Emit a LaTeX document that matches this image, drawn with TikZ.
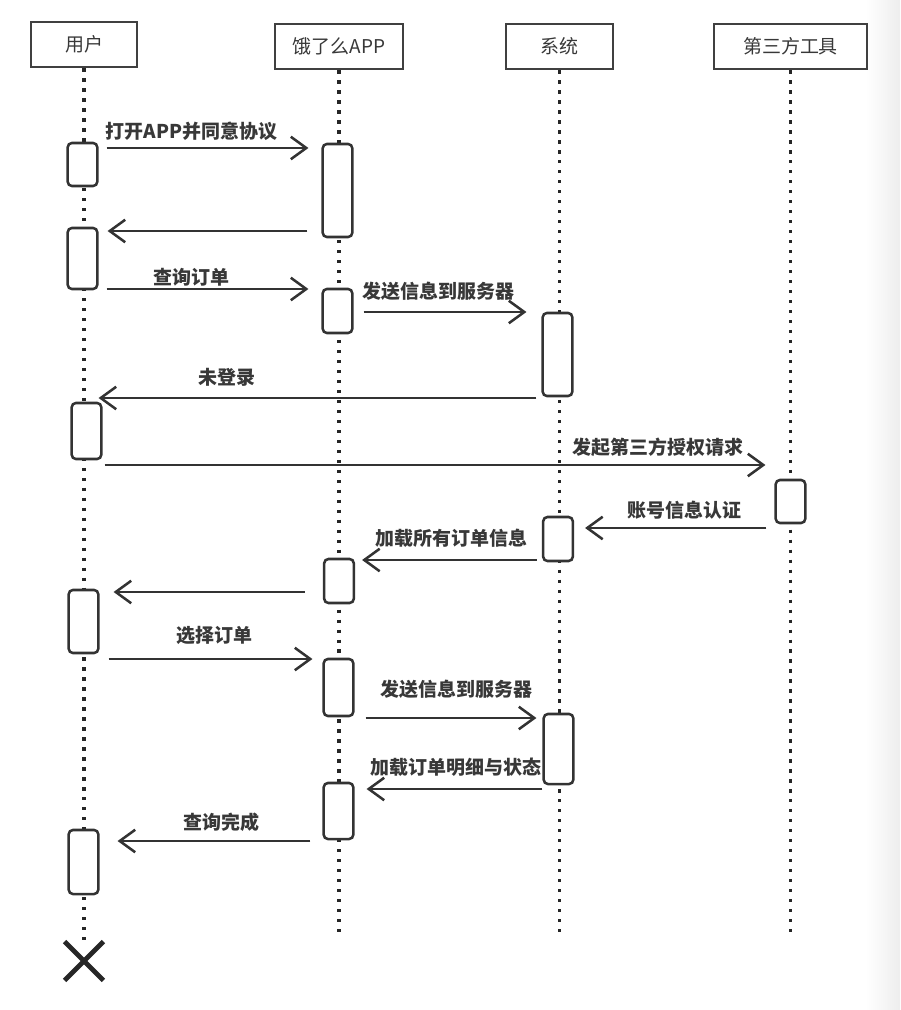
\documentclass[tikz,border=0pt]{standalone}
\usepackage{fontspec}
\setmainfont{Noto Sans CJK SC}
\usetikzlibrary{arrows.meta, calc, shapes.misc}

\begin{document}
\begin{tikzpicture}[x=0.025cm, y=-0.025cm,
        every node/.style={font=\fontsize{13.5}{16}\selectfont, text=black!78},
        head/.style={draw=black!75, line width=2pt, minimum height=1.125cm, inner sep=0pt},
        life/.style={black!85, line width=2.4pt, dash pattern=on 2.3pt off 4.8pt},
        act/.style={draw=black!80, line width=1.8pt, rounded corners=3pt, fill=white,
            minimum width=0.74cm, inner sep=0pt},
        msg/.style={black!80, line width=1.8pt, -{Straight Barb[length=11pt, width=16pt, line width=1.8pt]}},
        lbl/.style={font=\fontsize{13.5}{16}\selectfont\bfseries, inner sep=0pt}]
    \useasboundingbox (0,0) rectangle (900,1010);
    \shade[left color=white, right color=black!7] (866,0) rectangle (900,1010);

    % Draw the participants
    \node[head, minimum width=2.65cm] (user) at (84,44.5) {用户};
    \node[head, minimum width=3.2cm] (app) at (339,46.5) {饿了么APP};
    \node[head, minimum width=2.675cm] (sys) at (559.5,46.5) {系统};
    \node[head, minimum width=3.825cm] (tool) at (790.5,46.5) {第三方工具};

    % Draw the lifelines
    \node[draw=black!85, cross out, line width=3.4pt, minimum size=0.85cm, inner sep=0pt] (kill) at (84,961) {};
    \draw[life] (user.south) -- (kill.north);
    \draw[life] (app.south) -- (app |- 0,938) coordinate (append);
    \draw[life] (sys.south) -- (sys |- 0,938) coordinate (sysend);
    \draw[life] (tool.south) -- (tool |- 0,938) coordinate (toolend);

    % Activation boxes
    \node[act, minimum height=1.075cm] (a1) at (82.5,164.5) {};
    \node[act, minimum height=1.525cm] (a2) at (82.5,258.5) {};
    \node[act, minimum height=1.4cm] (a3) at (86.5,431) {};
    \node[act, minimum height=1.575cm] (a4) at (83.5,621.5) {};
    \node[act, minimum height=1.6cm] (a5) at (83.5,862) {};
    \node[act, minimum height=2.325cm] (b1) at (337.5,190.5) {};
    \node[act, minimum height=1.1cm] (b2) at (337.5,311) {};
    \node[act, minimum height=1.1cm] (b3) at (339,581) {};
    \node[act, minimum height=1.425cm] (b4) at (338.5,687.5) {};
    \node[act, minimum height=1.4cm] (b5) at (338.5,811) {};
    \node[act, minimum height=2.075cm] (c1) at (557.5,354.5) {};
    \node[act, minimum height=1.1cm] (c2) at (558,539) {};
    \node[act, minimum height=1.75cm] (c3) at (558.5,749) {};
    \node[act, minimum height=1.075cm] (d1) at (790.5,501.5) {};

    % Draw the messages
    \draw[msg] ($(a1.east |- 0,148)+(8,0)$) -- ($(b1.west |- 0,148)+(-13,0)$)
        node[lbl, pos=.42, yshift=12pt] {打开APP并同意协议};
    \draw[msg] ($(b1.west |- 0,231)+(-14,0)$) -- ($(a2.east |- 0,231)+(9,0)$);
    \draw[msg] ($(a2.east |- 0,289)+(8,0)$) -- ($(b2.west |- 0,289)+(-13,0)$)
        node[lbl, pos=.42, yshift=8.5pt] {查询订单};
    \draw[msg] ($(b2.east |- 0,312)+(10,0)$) -- ($(c1.west |- 0,312)+(-15,0)$)
        node[lbl, pos=.46, yshift=15pt] {发送信息到服务器};
    \draw[msg] ($(c1.west |- 0,398)+(-5,0)$) -- ($(a3.east |- 0,398)+(-4,0)$)
        node[lbl, pos=.707, yshift=15pt] {未登录};
    \draw[msg] ($(a3.east |- 0,465)+(2,0)$) -- ($(d1.west |- 0,465)+(-9,0)$)
        node[lbl, pos=.837, yshift=12.8pt] {发起第三方授权请求};
    \draw[msg] ($(d1.west |- 0,528)+(-8,0)$) -- ($(c2.east |- 0,528)+(11,0)$)
        node[lbl, pos=.45, yshift=12.8pt] {账号信息认证};
    \draw[msg] ($(c2.west |- 0,560)+(-5,0)$) -- ($(b3.east |- 0,560)+(7,0)$)
        node[lbl, pos=.49, yshift=15.6pt] {加载所有订单信息};
    \draw[msg] ($(b3.west |- 0,592)+(-18,0)$) -- ($(a4.east |- 0,592)+(14,0)$);
    \draw[msg] ($(a4.east |- 0,659)+(9,0)$) -- ($(b4.west |- 0,659)+(-10,0)$)
        node[lbl, pos=.52, yshift=17pt] {选择订单};
    \draw[msg] ($(b4.east |- 0,718)+(11,0)$) -- ($(c3.west |- 0,718)+(-6,0)$)
        node[lbl, pos=.53, yshift=20.6pt] {发送信息到服务器};
    \draw[msg] ($(c3.west |- 0,789)+(0,0)$) -- ($(b5.east |- 0,789)+(12,0)$)
        node[lbl, pos=.49, yshift=15.6pt] {加载订单明细与状态};
    \draw[msg] ($(b5.west |- 0,841)+(-12,0)$) -- ($(a5.east |- 0,841)+(18,0)$)
        node[lbl, pos=.46, yshift=13.5pt] {查询完成};
\end{tikzpicture}
\end{document}
